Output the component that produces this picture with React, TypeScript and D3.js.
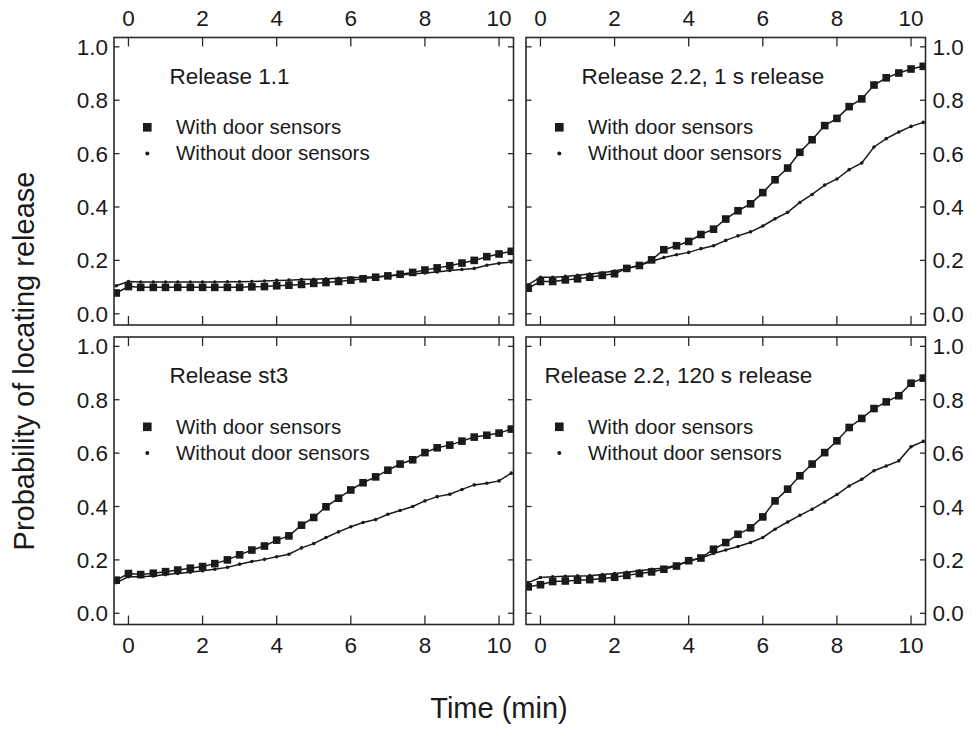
import React from "react";
import * as d3 from "d3";

const TIME = [-0.33, 0, 0.33, 0.67, 1, 1.33, 1.67, 2, 2.33, 2.67, 3, 3.33, 3.67, 4, 4.33, 4.67, 5, 5.33, 5.67, 6, 6.33, 6.67, 7, 7.33, 7.67, 8, 8.33, 8.67, 9, 9.33, 9.67, 10, 10.33];

const TITLES = ["Release 1.1", "Release 2.2, 1 s release", "Release st3", "Release 2.2, 120 s release"];
const LEGEND = ["With door sensors", "Without door sensors"];
const X_TICKS = [0, 2, 4, 6, 8, 10];
const Y_TICKS = [0, 0.2, 0.4, 0.6, 0.8, 1.0];

const R11_WITH = [0.078, 0.102, 0.099, 0.099, 0.099, 0.099, 0.099, 0.099, 0.099, 0.099, 0.099, 0.101, 0.102, 0.105, 0.107, 0.110, 0.114, 0.117, 0.121, 0.126, 0.131, 0.137, 0.142, 0.148, 0.155, 0.164, 0.172, 0.180, 0.190, 0.200, 0.214, 0.224, 0.234];
const R11_WITHOUT = [0.105, 0.121, 0.119, 0.119, 0.119, 0.119, 0.119, 0.119, 0.119, 0.120, 0.120, 0.121, 0.123, 0.125, 0.126, 0.128, 0.129, 0.131, 0.133, 0.135, 0.137, 0.139, 0.142, 0.145, 0.149, 0.153, 0.157, 0.162, 0.166, 0.170, 0.182, 0.189, 0.194];

const R22A_WITH = [0.096, 0.121, 0.121, 0.127, 0.131, 0.137, 0.144, 0.150, 0.170, 0.181, 0.202, 0.240, 0.255, 0.271, 0.297, 0.317, 0.355, 0.386, 0.412, 0.454, 0.502, 0.546, 0.605, 0.652, 0.705, 0.732, 0.776, 0.805, 0.857, 0.884, 0.902, 0.917, 0.927];
const R22A_WITHOUT = [0.109, 0.137, 0.137, 0.140, 0.144, 0.149, 0.154, 0.160, 0.170, 0.182, 0.196, 0.211, 0.221, 0.230, 0.244, 0.255, 0.275, 0.292, 0.307, 0.329, 0.356, 0.380, 0.417, 0.447, 0.482, 0.505, 0.540, 0.565, 0.625, 0.656, 0.681, 0.702, 0.717];

const RST3_WITH = [0.124, 0.149, 0.145, 0.150, 0.156, 0.162, 0.169, 0.175, 0.186, 0.200, 0.219, 0.237, 0.252, 0.274, 0.290, 0.330, 0.359, 0.399, 0.431, 0.462, 0.489, 0.511, 0.536, 0.559, 0.575, 0.602, 0.620, 0.630, 0.645, 0.660, 0.667, 0.675, 0.690];
const RST3_WITHOUT = [0.115, 0.137, 0.137, 0.140, 0.145, 0.149, 0.154, 0.159, 0.165, 0.172, 0.184, 0.194, 0.202, 0.212, 0.221, 0.245, 0.261, 0.284, 0.305, 0.324, 0.340, 0.351, 0.371, 0.385, 0.400, 0.421, 0.437, 0.446, 0.464, 0.481, 0.487, 0.496, 0.525];

const R22B_WITH = [0.099, 0.107, 0.119, 0.121, 0.124, 0.126, 0.130, 0.135, 0.142, 0.149, 0.155, 0.165, 0.177, 0.197, 0.207, 0.240, 0.265, 0.296, 0.320, 0.361, 0.421, 0.465, 0.515, 0.559, 0.602, 0.646, 0.696, 0.730, 0.767, 0.792, 0.815, 0.862, 0.881];
const R22B_WITHOUT = [0.115, 0.134, 0.137, 0.139, 0.140, 0.141, 0.145, 0.149, 0.154, 0.159, 0.165, 0.170, 0.180, 0.195, 0.207, 0.224, 0.237, 0.250, 0.265, 0.284, 0.315, 0.342, 0.367, 0.390, 0.417, 0.445, 0.477, 0.502, 0.534, 0.552, 0.571, 0.624, 0.644];

const WITH_SERIES = [R11_WITH, R22A_WITH, RST3_WITH, R22B_WITH];
const WITHOUT_SERIES = [R11_WITHOUT, R22A_WITHOUT, RST3_WITHOUT, R22B_WITHOUT];

const FONT = "'Liberation Sans', Arial, Helvetica, sans-serif";
const INK = "#1a1a1a";
const FRAME = "#2a2a2a";

const COLS = [114, 526];
const ROWS = [37.5, 337];
const PW = 399.5;
const PH = 287.5;
const TITLE_DX = [55.5, 55.5, 55.5, 18.5];

function Panel({ idx }: { idx: number }) {
  const col = idx % 2;
  const row = Math.floor(idx / 2);
  const x0 = COLS[col];
  const y0 = ROWS[row];
  const x = d3.scaleLinear().domain([-0.39, 10.39]).range([x0, x0 + PW]);
  const y = d3.scaleLinear().domain([-0.042, 1.035]).range([y0 + PH, y0]);
  const withD = WITH_SERIES[idx];
  const withoutD = WITHOUT_SERIES[idx];
  const line = d3
    .line<number>()
    .x((_, i) => x(TIME[i]))
    .y((d) => y(d));
  const clipId = `clip${idx}`;
  const xt = 9;
  const yt = 5.5;
  return (
    <g>
      <defs>
        <clipPath id={clipId}>
          <rect x={x0} y={y0} width={PW} height={PH} />
        </clipPath>
      </defs>
      {X_TICKS.map((t) => (
        <g key={"xt" + t}>
          <line x1={x(t)} x2={x(t)} y1={y0} y2={y0 + xt} stroke={FRAME} strokeWidth={1.3} />
          <line x1={x(t)} x2={x(t)} y1={y0 + PH} y2={y0 + PH - xt} stroke={FRAME} strokeWidth={1.3} />
        </g>
      ))}
      {Y_TICKS.map((t) => (
        <g key={"yt" + t}>
          <line x1={x0} x2={x0 + yt} y1={y(t)} y2={y(t)} stroke={FRAME} strokeWidth={1.3} />
          <line x1={x0 + PW} x2={x0 + PW - yt} y1={y(t)} y2={y(t)} stroke={FRAME} strokeWidth={1.3} />
        </g>
      ))}
      {X_TICKS.map((t) => (
        <text
          key={"xl" + t}
          x={x(t)}
          y={row === 0 ? y0 - 11.5 : y0 + PH + 28}
          textAnchor="middle"
          fontSize={22.5}
          fontFamily={FONT}
          fill={INK}
        >
          {t}
        </text>
      ))}
      {Y_TICKS.map((t) => (
        <text
          key={"yl" + t}
          x={col === 0 ? x0 - 6 : x0 + PW + 7}
          y={y(t) + 8}
          textAnchor={col === 0 ? "end" : "start"}
          fontSize={22.5}
          fontFamily={FONT}
          fill={INK}
        >
          {t.toFixed(1)}
        </text>
      ))}
      <g clipPath={`url(#${clipId})`}>
        <path d={line(withoutD) || ""} fill="none" stroke={INK} strokeWidth={1.5} />
        <path d={line(withD) || ""} fill="none" stroke={INK} strokeWidth={1.5} />
        {withoutD.map((v, i) => (
          <circle key={"c" + i} cx={x(TIME[i])} cy={y(v)} r={1.8} fill={INK} />
        ))}
        {withD.map((v, i) => (
          <rect key={"s" + i} x={x(TIME[i]) - 3.8} y={y(v) - 3.8} width={7.6} height={7.6} fill={INK} />
        ))}
      </g>
      <rect x={x0} y={y0} width={PW} height={PH} fill="none" stroke={FRAME} strokeWidth={1.6} />
      <text x={x0 + TITLE_DX[idx]} y={y0 + 46} fontSize={22.5} fontFamily={FONT} fill={INK}>
        {TITLES[idx]}
      </text>
      <rect x={x0 + 33.3 - 4.3} y={y0 + 89.8 - 4.3} width={8.6} height={8.6} fill={INK} />
      <text x={x0 + 62} y={y0 + 96.5} fontSize={20.5} fontFamily={FONT} fill={INK}>
        {LEGEND[0]}
      </text>
      <circle cx={x0 + 33.3} cy={y0 + 116} r={2} fill={INK} />
      <text x={x0 + 62} y={y0 + 122.5} fontSize={20.5} fontFamily={FONT} fill={INK}>
        {LEGEND[1]}
      </text>
    </g>
  );
}

export default function App() {
  return (
    <svg
      width={972}
      height={734}
      viewBox="0 0 972 734"
      style={{ position: "absolute", left: 0, top: 0, background: "#fff" }}
    >
      <rect x={0} y={0} width={972} height={734} fill="#fff" />
      {[0, 1, 2, 3].map((i) => (
        <Panel key={i} idx={i} />
      ))}
      <text
        transform="translate(34,361) rotate(-90)"
        textAnchor="middle"
        fontSize={29}
        fontFamily={FONT}
        fill={INK}
      >
        Probability of locating release
      </text>
      <text x={499} y={718} textAnchor="middle" fontSize={29} fontFamily={FONT} fill={INK}>
        Time (min)
      </text>
    </svg>
  );
}
